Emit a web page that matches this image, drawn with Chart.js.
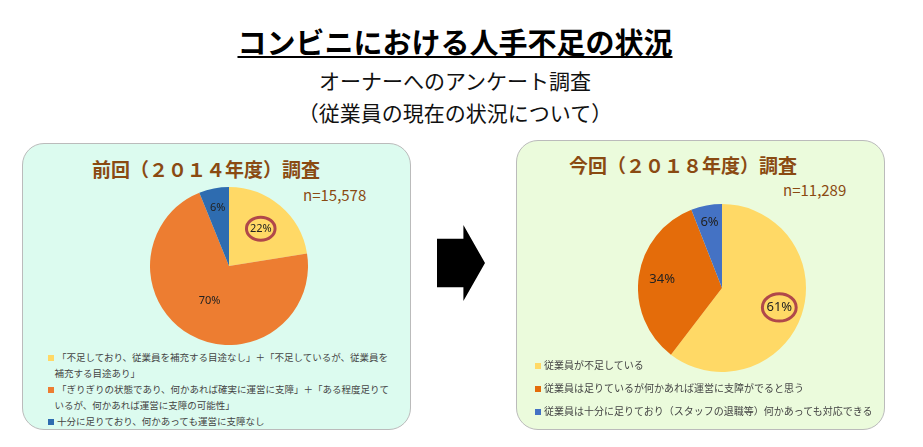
<!DOCTYPE html>
<html><head><meta charset="utf-8">
<script src="https://cdn.jsdelivr.net/npm/chart.js@4"></script>
<style>
body{margin:0;width:923px;height:447px;background:#fff;font-family:"Noto Sans CJK JP",sans-serif;position:relative;overflow:hidden}
.abs{position:absolute}
#t1{left:0;width:910px;top:20px;text-align:center;font-size:29px;font-weight:bold;text-decoration:underline;color:#000}
#t2{left:0;width:910px;top:64px;text-align:center;font-size:21px;line-height:32px;color:#111}
.panel{border:1.5px solid #bbb;border-radius:22px}
.ptitle{font-size:19px;font-weight:bold;color:#8a4a12;white-space:nowrap}
.n{font-size:15px;color:#8a4a12}
.leg{font-size:9.5px;color:#444;line-height:16px;white-space:nowrap}
.leg span{display:inline-block;width:6px;height:6px;margin-right:3px}
#arrow{left:437px;top:225px;width:48px;height:76px;background:#000;clip-path:polygon(0 18%,55% 18%,55% 0,100% 50%,55% 100%,55% 82%,0 82%)}
</style></head><body>
<div id="t1" class="abs">コンビニにおける人手不足の状況</div>
<div id="t2" class="abs">オーナーへのアンケート調査<br>（従業員の現在の状況について）</div>

<div class="abs panel" style="left:22px;top:143px;width:387px;height:285px;background:#dcfbef"></div>
<div class="abs ptitle" style="left:92px;top:155px">前回（２０１４年度）調査</div>
<div class="abs n" style="left:303px;top:184px">n=15,578</div>
<canvas id="c1" class="abs" style="left:150px;top:187px" width="158" height="158"></canvas>
<div class="abs leg" style="left:48px;top:349px">
<div><span style="background:#ffd966"></span>「不足しており、従業員を補充する目途なし」＋「不足しているが、従業員を<br>&nbsp;&nbsp;&nbsp;補充する目途あり」</div>
<div><span style="background:#ed7d31"></span>「ぎりぎりの状態であり、何かあれば確実に運営に支障」＋「ある程度足りて<br>&nbsp;&nbsp;&nbsp;いるが、何かあれば運営に支障の可能性」</div>
<div><span style="background:#2e6cb0"></span>十分に足りており、何かあっても運営に支障なし</div>
</div>

<div id="arrow" class="abs"></div>

<div class="abs panel" style="left:516px;top:140px;width:367px;height:288px;background:#ebfbdc"></div>
<div class="abs ptitle" style="left:569px;top:151px">今回（２０１８年度）調査</div>
<div class="abs n" style="left:783px;top:179px">n=11,289</div>
<canvas id="c2" class="abs" style="left:638px;top:204px" width="168" height="168"></canvas>
<div class="abs leg" style="left:535px;top:353px;line-height:23px;font-size:10px">
<div><span style="background:#ffd966"></span>従業員が不足している</div>
<div><span style="background:#e46c0a"></span>従業員は足りているが何かあれば運営に支障がでると思う</div>
<div><span style="background:#4472c4"></span>従業員は十分に足りており（スタッフの退職等）何かあっても対応できる</div>
</div>

<script>
// survey categories
const categories2014 = ["不足（目途なし＋目途あり）", "ぎりぎり＋ある程度足りている", "十分に足りている"];
const values2014 = [22, 70, 6];
const categories2018 = ["従業員が不足している", "足りているが支障がでると思う", "十分に足りている"];
const values2018 = [61, 34, 6];
const colors2014 = ["#ffd966", "#ed7d31", "#2e6cb0"];
const colors2018 = ["#ffd966", "#e46c0a", "#4472c4"];

// draws % labels on each slice, circles the highlighted one
const labelPlugin = {
  id: "sliceLabels",
  afterDatasetsDraw(chart, args, opts) {
    const ctx = chart.ctx;
    const meta = chart.getDatasetMeta(0);
    meta.data.forEach((arc, i) => {
      const mid = (arc.startAngle + arc.endAngle) / 2;
      const r = arc.outerRadius * opts.dist[i];
      const x = arc.x + Math.cos(mid) * r;
      const y = arc.y + Math.sin(mid) * r;
      ctx.save();
      ctx.font = opts.size + "px 'Noto Sans', sans-serif";
      ctx.fillStyle = "#222";
      ctx.textAlign = "center";
      ctx.textBaseline = "middle";
      ctx.fillText(chart.data.datasets[0].data[i] + "%", x, y);
      if (i === opts.highlight) {
        ctx.strokeStyle = "#b0484a";
        ctx.lineWidth = 3;
        ctx.beginPath();
        ctx.ellipse(x, y, opts.size * 1.3, opts.size * 1.05, 0, 0, Math.PI * 2);
        ctx.stroke();
      }
      ctx.restore();
    });
  }
};

function makePie(id, labels, values, colors, opts) {
  new Chart(document.getElementById(id), {
    type: "pie",
    data: { labels: labels, datasets: [{ data: values, backgroundColor: colors, borderWidth: 0 }] },
    options: {
      responsive: false,
      animation: false,
      layout: { padding: 0 },
      plugins: { legend: { display: false }, tooltip: { enabled: false }, sliceLabels: opts }
    },
    plugins: [labelPlugin]
  });
}

makePie("c1", categories2014, values2014, colors2014, { dist: [0.62, 0.5, 0.75], size: 11, highlight: 0 });
makePie("c2", categories2018, values2018, colors2018, { dist: [0.72, 0.72, 0.8], size: 13, highlight: 0 });
</script>
</body></html>
